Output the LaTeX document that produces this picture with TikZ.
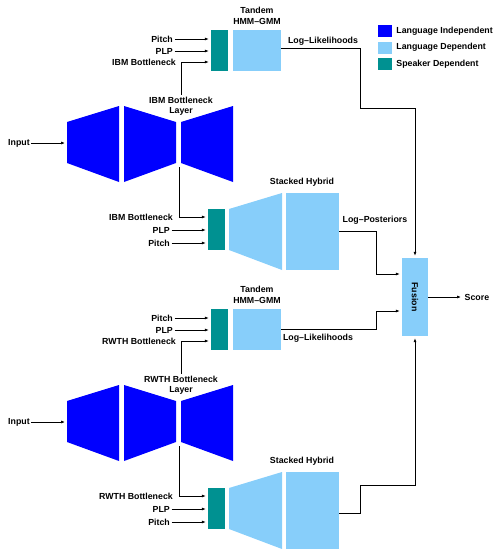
\documentclass[tikz,border=0pt]{standalone}
\usepackage{fontspec}
\setmainfont{Liberation Sans}
\usepackage{graphicx}
\usetikzlibrary{arrows.meta,positioning,calc}
\definecolor{lidblue}{RGB}{0,0,255}
\definecolor{ldblue}{RGB}{135,206,250}
\definecolor{sdteal}{RGB}{0,145,145}

\begin{document}
\begin{tikzpicture}[x=1pt, y=-1pt,
  every node/.style = {font=\fontsize{8.8}{10.5}\selectfont\bfseries, inner sep=1.5pt},
  lbl/.style    = {align=center},
  inlbl/.style  = {anchor=east},
  sdbox/.style  = {fill=sdteal, minimum width=17pt, minimum height=41pt, inner sep=0pt},
  ldbox/.style  = {fill=ldblue, inner sep=0pt},
  key/.style    = {minimum width=14pt, minimum height=12pt, inner sep=0pt},
  arr/.style    = {-{Latex[length=4pt,width=3pt]}, line width=0.7pt, shorten >=2pt},
  conn/.style   = {line width=0.7pt},
]
\useasboundingbox (0,0) rectangle (495,549);

%% ── Legend ───────────────────────────────────────────────────────────────────
\node[key, fill=lidblue] (keyLI) at (385,31) {};
\node[key, fill=ldblue]  (keyLD) at (385,47.5) {};
\node[key, fill=sdteal]  (keySD) at (385,64) {};
\node[right=2.5pt of keyLI] (keyLItxt) {Language Independent};
\node[right=2.5pt of keyLD] (keyLDtxt) {Language Dependent};
\node[right=2.5pt of keySD] (keySDtxt) {Speaker Dependent};

%% ── IBM system: bottleneck network ──────────────────────────────────────────
\fill[lidblue] (67,122) -- (119,106) -- (119,182) -- (67,163) -- cycle;
\fill[lidblue] (124,106) -- (176,122) -- (176,163) -- (124,182) -- cycle;
\fill[lidblue] (181,122) -- (233,106) -- (233,182) -- (181,163) -- cycle;
\node (inp) at (19,143) {Input};
\coordinate (netIn) at (67,143);
\draw[arr] (inp.east) -- (netIn);
\node[lbl] (bnLayer) at (181,106) {IBM Bottleneck\\Layer};
\coordinate (bnOut) at (179,167);

%% ── IBM system: tandem HMM-GMM ──────────────────────────────────────────────
\node[lbl] (tanTitle) at (257,16) {Tandem\\HMM--GMM};
\node[sdbox] (tanSD) at (219.5,50.5) {};
\node[ldbox, minimum width=48pt, minimum height=41pt] (tanLD) at (257,50.5) {};
\node[inlbl] (tPitch) at (174.5,39) {Pitch};
\node[inlbl] (tPlp)   at (174.5,51) {PLP};
\node[inlbl] (tBn)    at (177.5,62) {IBM Bottleneck};
\draw[arr] (tPitch.east) -- (tPitch -| tanSD.west);
\draw[arr] (tPlp.east) -- (tPlp -| tanSD.west);
\draw[arr] (bnLayer.north) |- (tBn -| tanSD.west);

%% ── IBM system: stacked hybrid ──────────────────────────────────────────────
\node (hybTitle) at (302,182) {Stacked Hybrid};
\node[sdbox] (hybSD) at (216.5,229.5) {};
\fill[ldblue] (229,209) -- (282,193) -- (282,270) -- (229,250) -- cycle;
\node[ldbox, minimum width=53pt, minimum height=77pt] (hybLD) at (312.5,231.5) {};
\node[inlbl] (hBn)    at (174.5,217) {IBM Bottleneck};
\node[inlbl] (hPlp)   at (171.5,230) {PLP};
\node[inlbl] (hPitch) at (171.5,243) {Pitch};
\draw[arr] (bnOut) |- (hBn -| hybSD.west);
\draw[arr] (hPlp.east) -- (hPlp -| hybSD.west);
\draw[arr] (hPitch.east) -- (hPitch -| hybSD.west);

%% ── RWTH system (same layout, shifted down) ─────────────────────────────────
\begin{scope}[yshift=-279pt]
\fill[lidblue] (67,122) -- (119,106) -- (119,182) -- (67,163) -- cycle;
\fill[lidblue] (124,106) -- (176,122) -- (176,163) -- (124,182) -- cycle;
\fill[lidblue] (181,122) -- (233,106) -- (233,182) -- (181,163) -- cycle;
\node (inp2) at (19,143) {Input};
\coordinate (netIn2) at (67,143);
\draw[arr] (inp2.east) -- (netIn2);
\node[lbl] (bnLayer2) at (181,106) {RWTH Bottleneck\\Layer};
\coordinate (bnOut2) at (179,167);

\node[lbl] (tanTitle2) at (257,16) {Tandem\\HMM--GMM};
\node[sdbox] (tanSD2) at (219.5,50.5) {};
\node[ldbox, minimum width=48pt, minimum height=41pt] (tanLD2) at (257,50.5) {};
\node[inlbl] (tPitch2) at (174.5,39) {Pitch};
\node[inlbl] (tPlp2)   at (174.5,51) {PLP};
\node[inlbl] (tBn2)    at (177.5,62) {RWTH Bottleneck};
\draw[arr] (tPitch2.east) -- (tPitch2 -| tanSD2.west);
\draw[arr] (tPlp2.east) -- (tPlp2 -| tanSD2.west);
\draw[arr] (bnLayer2.north) |- (tBn2 -| tanSD2.west);

\node (hybTitle2) at (302,182) {Stacked Hybrid};
\node[sdbox] (hybSD2) at (216.5,229.5) {};
\fill[ldblue] (229,209) -- (282,193) -- (282,270) -- (229,250) -- cycle;
\node[ldbox, minimum width=53pt, minimum height=77pt] (hybLD2) at (312.5,231.5) {};
\node[inlbl] (hBn2)    at (174.5,217) {RWTH Bottleneck};
\node[inlbl] (hPlp2)   at (171.5,230) {PLP};
\node[inlbl] (hPitch2) at (171.5,243) {Pitch};
\draw[arr] (bnOut2) |- (hBn2 -| hybSD2.west);
\draw[arr] (hPlp2.east) -- (hPlp2 -| hybSD2.west);
\draw[arr] (hPitch2.east) -- (hPitch2 -| hybSD2.west);
\end{scope}

%% ── Fusion and score ─────────────────────────────────────────────────────────
\node[ldbox, minimum width=26pt, minimum height=78pt] (fusion) at (415,297) {\rotatebox{-90}{Fusion}};
\node[anchor=west] (score) at (463,297) {Score};
\draw[arr] (fusion.east) -- (score.west);

\draw[arr] ([yshift=2pt]tanLD.east) -| (360,108) -| (fusion.north);
\node (llTop) at (323,41) {Log--Likelihoods};
\draw[arr] (hybLD.east) -- ++(37,0) |- ([yshift=23pt]fusion.west);
\node (lpTop) at (375,220) {Log--Posteriors};
\draw[arr] (tanLD2.east) -- ++(95,0) |- ([yshift=-14pt]fusion.west);
\node (llBot) at (318,338) {Log--Likelihoods};
\draw[arr] ([yshift=-3pt]hybLD2.east) -| (360,485) -| (fusion.south);

\end{tikzpicture}
\end{document}
